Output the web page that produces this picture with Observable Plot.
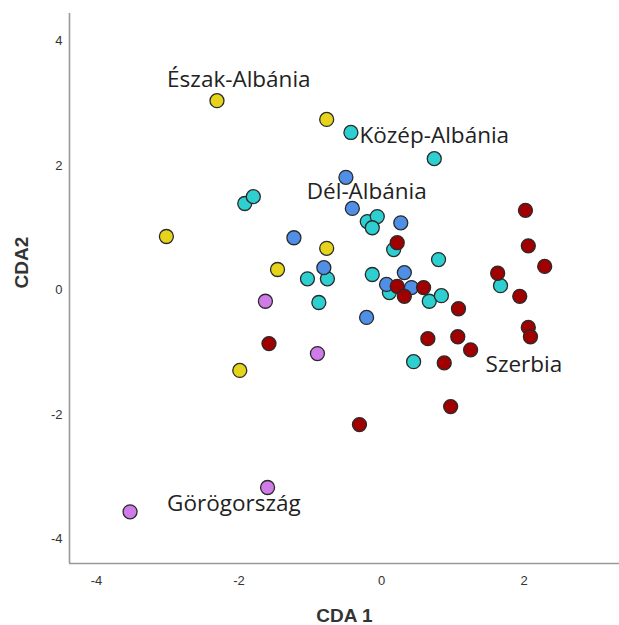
<!DOCTYPE html>
<html>
<head>
<meta charset="utf-8">
<script src="https://cdn.jsdelivr.net/npm/d3@7"></script>
<script src="https://cdn.jsdelivr.net/npm/@observablehq/plot@0.6"></script>
<style>
  html, body { margin: 0; padding: 0; background: #fff; }
  #chart svg { display: block; }
</style>
</head>
<body>
<div id="chart"></div>
<script>
// ---- Data ----
const groupNames = ["Észak-Albánia", "Közép-Albánia", "Dél-Albánia", "Szerbia", "Görögország"];
const groupColors = ["#e6d31c", "#2ecfd0", "#4f8fe6", "#a00000", "#d07ce8"];

const eszakAlbania = [
  [-2.31, 3.04], [-0.77, 2.74], [-3.02, 0.86], [-0.77, 0.67], [-1.46, 0.33], [-1.99, -1.29]
];
const kozepAlbania = [
  [-0.43, 2.53], [0.74, 2.11], [-1.92, 1.39], [-1.80, 1.50], [-0.20, 1.10], [-0.06, 1.18],
  [-0.13, 1.00], [0.17, 0.65], [0.80, 0.49], [-1.04, 0.18], [-0.76, 0.18], [-0.13, 0.25],
  [-0.88, -0.20], [0.11, -0.04], [0.67, -0.18], [0.84, -0.09], [1.67, 0.07], [0.45, -1.15]
];
const delAlbania = [
  [-0.50, 1.81], [-0.41, 1.31], [0.27, 1.08], [-1.23, 0.84], [-0.81, 0.36], [0.32, 0.28],
  [0.07, 0.09], [0.42, 0.04], [-0.21, -0.44]
];
const szerbia = [
  [0.22, 0.76], [0.22, 0.06], [0.59, 0.04], [0.32, -0.10], [1.08, -0.30], [-1.58, -0.86],
  [0.65, -0.78], [1.07, -0.75], [1.25, -0.96], [0.88, -1.17], [0.97, -1.87], [-0.31, -2.16],
  [2.02, 1.28], [2.06, 0.71], [2.29, 0.38], [1.63, 0.27], [1.94, -0.10], [2.06, -0.60], [2.09, -0.75]
];
const gorogorszag = [
  [-1.63, -0.18], [-0.90, -1.02], [-1.60, -3.17], [-3.53, -3.56]
];

// group labels placed in data space
const labelNames = ["Észak-Albánia", "Közép-Albánia", "Dél-Albánia", "Szerbia", "Görögország"];
const labelX = [-3.01, -0.31, -1.05, 1.46, -3.01];
const labelY = [3.37, 2.47, 1.57, -1.20, -3.43];

const xTicks = [-4, -2, 0, 2];
const yTicks = [-4, -2, 0, 2, 4];
const xDomain = [-4.38, 3.34];
const yDomain = [-4.39, 4.44];
const xTitle = "CDA 1";
const yTitle = "CDA2";

// ---- Build tables ----
const groupPoints = [kozepAlbania, delAlbania, eszakAlbania, gorogorszag, szerbia];
const groupOrder = [1, 2, 0, 4, 3];
const points = [];
groupPoints.forEach((arr, i) => {
  const g = groupOrder[i];
  arr.forEach(([x, y]) => points.push({x, y, group: groupNames[g]}));
});
const labels = labelNames.map((t, i) => ({t, x: labelX[i], y: labelY[i]}));

const chart = Plot.plot({
  width: 619,
  height: 625,
  marginLeft: 69,
  marginRight: 0,
  marginTop: 13,
  marginBottom: 62,
  style: {fontFamily: "'Liberation Sans', Arial, sans-serif", background: "#fff"},
  x: {domain: xDomain},
  y: {domain: yDomain},
  color: {domain: groupNames, range: groupColors},
  marks: [
    Plot.axisX({ticks: xTicks, tickSize: 0, tickPadding: 12, label: null, fontSize: 13, fill: "#333", tickFormat: d => String(d)}),
    Plot.axisY({ticks: yTicks, tickSize: 0, tickPadding: 7, label: null, fontSize: 13, fill: "#333", tickFormat: d => String(d)}),
    Plot.ruleX([xDomain[0]], {stroke: "#999", strokeWidth: 1.6}),
    Plot.ruleY([yDomain[0]], {stroke: "#999", strokeWidth: 1.6}),
    Plot.dot(points, {x: "x", y: "y", fill: "group", r: 7, stroke: "#2a2a2a", strokeWidth: 1.3}),
    Plot.text(labels, {x: "x", y: "y", text: "t", textAnchor: "start", lineAnchor: "middle",
      fontSize: 22.5, fontFamily: "'Open Sans', sans-serif", fill: "#222"}),
    Plot.text([xTitle], {text: d => d, frameAnchor: "bottom", dy: 52, lineAnchor: "middle",
      fontSize: 19, fontWeight: "bold", fill: "#333"}),
    Plot.text([yTitle], {text: d => d, frameAnchor: "left", dx: -48, rotate: -90, lineAnchor: "middle",
      fontSize: 19, fontWeight: "bold", fill: "#333"})
  ]
});
document.getElementById("chart").appendChild(chart);
</script>
</body>
</html>
